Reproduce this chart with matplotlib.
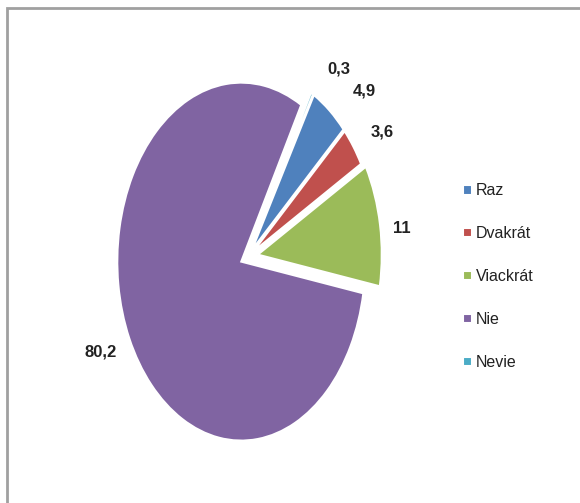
import numpy as np
import matplotlib.pyplot as plt
from matplotlib.patches import Rectangle

categories = ['Raz', 'Dvakrát', 'Viackrát', 'Nie', 'Nevie']
values = [4.9, 3.6, 11, 80.2, 0.3]
value_labels = ['4,9', '3,6', '11', '80,2', '0,3']
colors = ['#4F81BD', '#C0504D', '#9BBB59', '#8064A2', '#4BACC6']
explode = [0.05, 0.05, 0.08, 0.06, 0.05]

# label spots (data units), Excel nudges them around
label_pos = [(0.94, 0.93), (1.08, 0.70), (1.24, 0.16), (-1.19, -0.53), (0.73, 1.05)]

fam = ['Liberation Sans', 'DejaVu Sans']
W, H = 580, 503
fig = plt.figure(figsize=(W / 100, H / 100), dpi=100)

# pie is drawn stretched vertically like in the screenshot
rx, ry = 124, 179
cx, cy = 248, 257
ax = fig.add_axes([(cx - 1.3 * rx) / W, (H - cy - 1.3 * ry) / H,
                   2.6 * rx / W, 2.6 * ry / H])
wedges, _ = ax.pie(values, colors=colors, explode=explode, startangle=60,
                   counterclock=False,
                   wedgeprops=dict(edgecolor='white', linewidth=1.5))
ax.set_aspect('auto')
ax.set_xlim(-1.3, 1.3)
ax.set_ylim(-1.3, 1.3)
ax.axis('off')

for txt, (x, y) in zip(value_labels, label_pos):
    ax.text(x, y, txt, ha='center', va='center', fontsize=12,
            fontweight='bold', color='#222222', family=fam)

leg = fig.legend(wedges, categories, loc='upper left',
                 bbox_to_anchor=(449 / W, 1 - 169 / H), frameon=False,
                 handlelength=0.55, handleheight=0.55, handletextpad=0.25,
                 labelspacing=1.75, prop=dict(family=fam, size=11.5))
for t in leg.get_texts():
    t.set_color('#222222')

# grey frame of the cropped chart area
fig.patches.append(Rectangle((7 / W, -0.1), 1.2, 1 - 8 / H + 0.1,
                             transform=fig.transFigure, fill=False,
                             edgecolor='#a0a0a0', linewidth=2))

fig.savefig('out.png', dpi=100)
